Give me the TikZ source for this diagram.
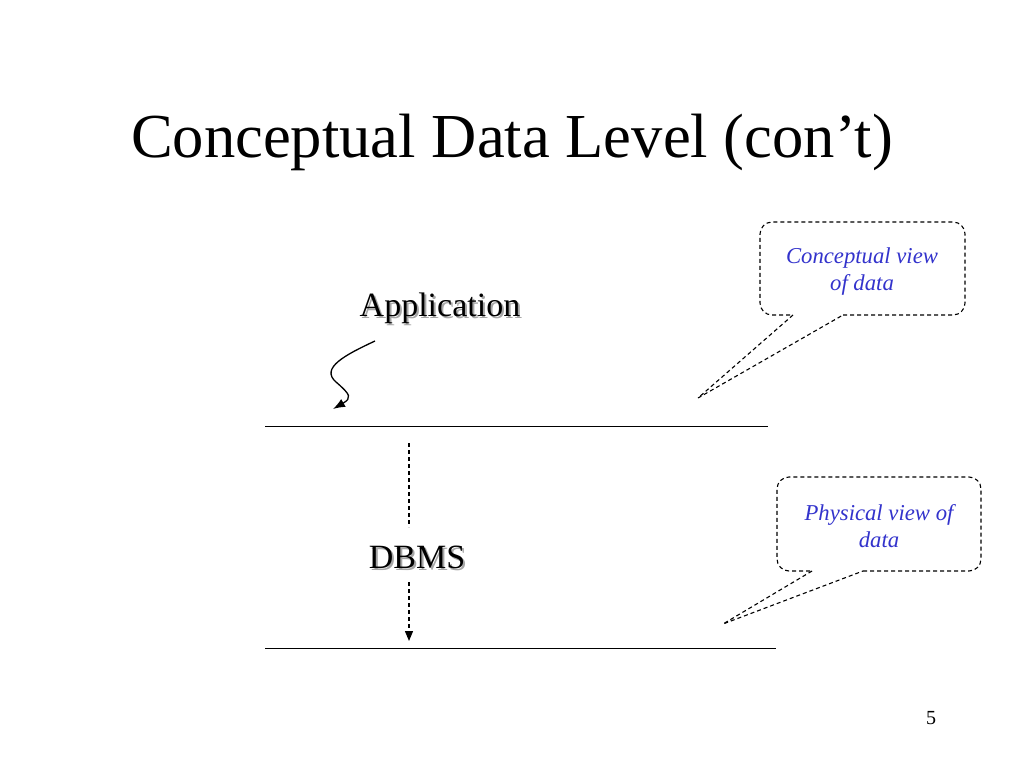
\documentclass[tikz,border=0pt]{standalone}
\usepackage{fontspec}
\setmainfont{Liberation Serif}
\usetikzlibrary{arrows.meta}
\definecolor{callblue}{RGB}{51,51,204}
\tikzset{
  x=1pt, y=-1pt,
  shtext/.style={font=\fontsize{34}{40}\selectfont, anchor=base, inner sep=0pt},
  calltext/.style={font=\fontsize{22.7}{27}\selectfont\itshape, text=callblue, align=center, anchor=base},
  callbox/.style={draw=black, line width=1.1pt, dash pattern=on 4pt off 3pt, rounded corners=12pt},
  callptr/.style={draw=black, line width=1.1pt, dash pattern=on 4pt off 3pt, sharp corners},
  rule/.style={draw=black, line width=1pt},
  conn/.style={draw=black, line width=1.3pt},
}
\begin{document}
\begin{tikzpicture}
\useasboundingbox (0,0) rectangle (1024,768);
\fill[white] (0,0) rectangle (1024,768);
% title
\node[font=\fontsize{62.6}{70}\selectfont, anchor=base, inner sep=0pt] (title) at (512,157) {Conceptual Data Level (con’t)};
% Application with shadow
\node[shtext, text=black!35] (appsh) at (442,318) {Application};
\node[shtext] (app) at (440,316) {Application};
% DBMS with shadow
\node[shtext, text=black!35] (dbmssh) at (419,570) {DBMS};
\node[shtext] (dbms) at (417,568) {DBMS};
% rules
\coordinate (r1a) at (265,426); \coordinate (r1b) at (768,426);
\coordinate (r2a) at (265,648); \coordinate (r2b) at (776,648);
\draw[rule] (r1a) -- (r1b);
\draw[rule] (r2a) -- (r2b);
% squiggle arrow
\coordinate (sqs) at (375,341);
\coordinate (sqe) at (333,409);
\draw[conn, -{Latex[length=12pt,width=9pt]}] (sqs) .. controls (345,355) and (320,368) .. (336,382)
   .. controls (351,395) and (352,398) .. (sqe);
% dashed vertical arrow
\coordinate (dtop) at (409,443);
\coordinate (dup) at (409,527);
\coordinate (ddn) at (409,582);
\coordinate (dbot) at (409,641);
\draw[conn, dash pattern=on 4pt off 3pt] (dtop) -- (dup);
\draw[conn, dash pattern=on 4pt off 3pt, -{Triangle[length=10pt,width=8pt]}] (ddn) -- (dbot);
% callout 1
\coordinate (c1tip) at (698,398);
\draw[callbox] (843,315) -- (965,315) -- (965,222) -- (760,222) -- (760,315) -- (793,315);
\draw[callptr] (793,315) -- (c1tip) -- (843,315);
\node[calltext] (c1) at (862,290) {Conceptual view\\[-0.5pt]of data};
% callout 2
\coordinate (c2tip) at (723,624);
\draw[callbox] (863,571) -- (981,571) -- (981,477) -- (777,477) -- (777,571) -- (812,571);
\draw[callptr] (812,571) -- (c2tip) -- (863,571);
\node[calltext] (c2) at (879,547) {Physical view of\\[-0.5pt]data};
% page number
\node[font=\fontsize{20}{24}\selectfont, anchor=base, inner sep=0pt] (pg) at (931,724) {5};
\end{tikzpicture}
\end{document}
